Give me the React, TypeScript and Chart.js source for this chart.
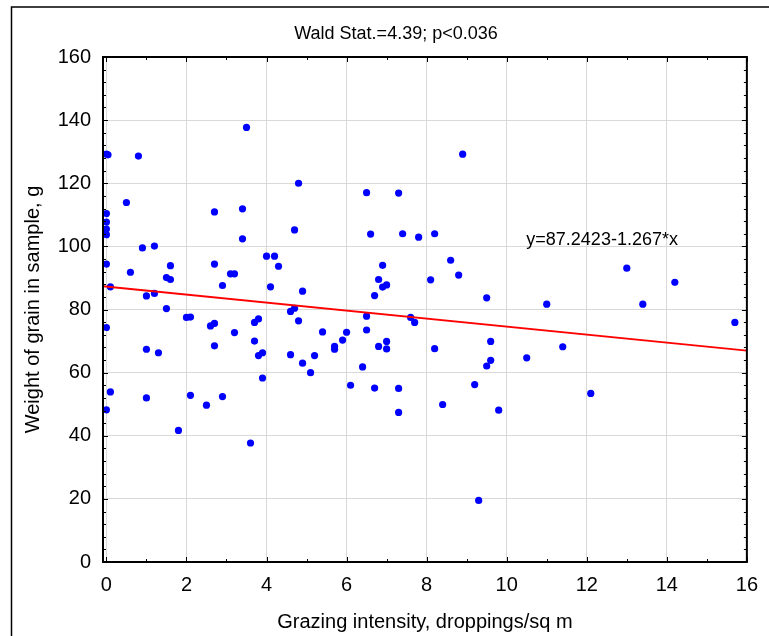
import React, { useEffect, useRef } from "react";
import { Chart, registerables } from "chart.js";

Chart.register(...registerables);

// ---- Data ----
const grazing: number[] = [
  0.0, 0.04, 0.8, 0.5, 0.0, 0.0, 0.0, 0.0, 0.0, 0.9,
  1.2, 0.6, 0.1, 1.0, 1.2, 1.5, 1.6, 1.6, 1.5, 2.7,
  2.7, 2.9, 3.1, 3.2, 3.4, 3.4, 3.5, 0.0, 1.0, 1.3,
  2.0, 2.1, 2.6, 2.7, 2.7, 3.2, 3.7, 3.8, 3.7, 0.1,
  0.0, 1.0, 2.1, 2.5, 2.9, 1.8, 3.6, 8.9, 4.8, 6.5,
  7.3, 4.7, 6.6, 7.4, 7.8, 8.2, 4.0, 4.2, 4.3, 8.6,
  6.9, 6.8, 6.9, 7.0, 8.1, 8.8, 4.1, 4.9, 6.7, 9.5,
  4.6, 4.7, 4.8, 6.5, 7.6, 7.7, 5.4, 6.0, 6.5, 3.8,
  3.9, 3.9, 4.6, 4.9, 5.1, 5.2, 5.7, 5.7, 5.9, 6.1,
  6.4, 6.8, 7.0, 7.0, 6.7, 7.3, 7.3, 8.2, 8.4, 9.2,
  9.3, 9.5, 9.6, 9.6, 9.8, 13.0, 14.2, 11.0, 13.4, 15.7,
  11.4, 10.5, 12.1,
];
const grainWeight: number[] = [
  129.2, 129.0, 128.6, 113.9, 110.4, 107.7, 105.5, 103.7, 94.4, 99.5,
  100.1, 91.8, 87.2, 84.3, 85.1, 90.1, 89.5, 93.9, 80.3, 110.9,
  94.4, 87.6, 91.3, 91.3, 111.9, 102.4, 137.7, 74.3, 67.4, 66.3,
  77.5, 77.6, 74.8, 75.6, 68.5, 72.7, 75.9, 77.0, 70.0, 53.9,
  48.2, 52.0, 52.8, 49.7, 52.4, 41.7, 37.7, 129.2, 120.0, 117.0,
  116.9, 105.2, 103.9, 104.0, 102.9, 104.0, 96.9, 96.9, 93.7, 95.6,
  94.0, 89.5, 87.1, 87.8, 89.4, 90.9, 87.2, 85.8, 84.4, 83.7,
  79.4, 80.4, 76.4, 77.9, 77.5, 75.9, 72.9, 72.8, 73.5, 65.4,
  66.3, 58.3, 65.7, 63.0, 60.0, 65.4, 68.3, 67.4, 70.3, 56.0,
  61.8, 68.3, 69.9, 67.5, 55.1, 55.0, 47.4, 67.6, 49.9, 56.2,
  19.5, 62.1, 69.9, 63.9, 48.1, 93.1, 88.6, 81.7, 81.7, 75.9,
  68.2, 64.7, 53.4,
];

// Fitted line endpoints (x at axis edges, y from the printed equation)
const fitLineX: number[] = [-0.085, 16];
const fitLineY: number[] = [87.35, 66.97];

const xTickValues: number[] = [0, 2, 4, 6, 8, 10, 12, 14, 16];
const yTickValues: number[] = [0, 20, 40, 60, 80, 100, 120, 140, 160];

const titleText = "Wald Stat.=4.39; p<0.036";
const equationText = "y=87.2423-1.267*x";
const equationAt = { x: 10.49, y: 100.4 };
const xAxisLabel = "Grazing intensity, droppings/sq m";
const yAxisLabel = "Weight of grain in sample, g";

const FONT = '"Liberation Sans", Arial, Helvetica, sans-serif';

const decorPlugin = {
  id: "decor",
  afterDraw(chart: any) {
    const { ctx, chartArea, scales } = chart;
    const { left, right, top, bottom } = chartArea;
    const xs = scales.x;
    const ys = scales.y;
    ctx.save();

    // outer frame (top and left edges visible)
    ctx.strokeStyle = "#000";
    ctx.lineWidth = 1.5;
    ctx.beginPath();
    ctx.moveTo(11.5, 700);
    ctx.lineTo(11.5, 7);
    ctx.lineTo(800, 7);
    ctx.stroke();

    // inward ticks, major and minor, on all four sides
    ctx.lineWidth = 1;
    ctx.beginPath();
    for (let v = 0; v <= 16; v += 1) {
      const p = Math.round(xs.getPixelForValue(v)) + 0.5;
      const len = v % 2 === 0 ? 5 : 3;
      ctx.moveTo(p, bottom);
      ctx.lineTo(p, bottom - len);
      ctx.moveTo(p, top);
      ctx.lineTo(p, top + len);
    }
    for (let v = 0; v <= 160; v += 4) {
      const p = Math.round(ys.getPixelForValue(v)) + 0.5;
      const len = v % 20 === 0 ? 5 : 3;
      ctx.moveTo(left, p);
      ctx.lineTo(left + len, p);
      ctx.moveTo(right, p);
      ctx.lineTo(right - len, p);
    }
    ctx.stroke();

    // plot border
    ctx.lineWidth = 2;
    ctx.strokeRect(left, top, right - left, bottom - top);

    // title
    ctx.fillStyle = "#000";
    ctx.font = `18px ${FONT}`;
    ctx.textAlign = "center";
    ctx.textBaseline = "alphabetic";
    ctx.fillText(titleText, 396, 38.7);

    // regression equation
    ctx.textAlign = "left";
    ctx.fillText(
      equationText,
      xs.getPixelForValue(equationAt.x),
      ys.getPixelForValue(equationAt.y)
    );
    ctx.restore();
  },
};

export default function App() {
  const canvasRef = useRef<HTMLCanvasElement | null>(null);

  useEffect(() => {
    const canvas = canvasRef.current;
    if (!canvas) return;
    const points = grazing.map((x, i) => ({ x, y: grainWeight[i] }));
    const line = fitLineX.map((x, i) => ({ x, y: fitLineY[i] }));

    const chart = new Chart(canvas, {
      type: "scatter",
      data: {
        datasets: [
          {
            label: "fit",
            data: line,
            showLine: true,
            borderColor: "#ff0000",
            borderWidth: 2,
            pointRadius: 0,
            fill: false,
          },
          {
            label: "grain",
            data: points,
            backgroundColor: "#0000ff",
            borderColor: "#0000ff",
            borderWidth: 0,
            pointRadius: 3.6,
          },
        ],
      },
      options: {
        responsive: false,
        animation: false,
        devicePixelRatio: 1,
        layout: { padding: { left: 0, top: 57, right: 11, bottom: 0 } },
        plugins: {
          legend: { display: false },
          tooltip: { enabled: false },
          title: { display: false },
        },
        scales: {
          x: {
            type: "linear",
            min: -0.085,
            max: 16,
            afterBuildTicks: (s: any) => {
              s.ticks = xTickValues.map((v) => ({ value: v }));
            },
            afterFit: (s: any) => {
              s.height = 74;
            },
            ticks: {
              padding: 11,
              color: "#000",
              font: { size: 20, family: FONT },
              maxRotation: 0,
              autoSkip: false,
            },
            grid: { color: "#d9d9d9", lineWidth: 1, drawTicks: false },
            border: { display: false },
            title: {
              display: true,
              text: xAxisLabel,
              color: "#000",
              font: { size: 20, family: FONT },
              padding: { top: 0, bottom: 2 },
            },
          },
          y: {
            type: "linear",
            min: 0,
            max: 160,
            afterBuildTicks: (s: any) => {
              s.ticks = yTickValues.map((v) => ({ value: v }));
            },
            afterFit: (s: any) => {
              s.width = 103;
            },
            ticks: {
              padding: 12,
              color: "#000",
              font: { size: 20, family: FONT },
              autoSkip: false,
            },
            grid: { color: "#d9d9d9", lineWidth: 1, drawTicks: false },
            border: { display: false },
            title: {
              display: true,
              text: yAxisLabel,
              color: "#000",
              font: { size: 20, family: FONT },
              padding: { top: 21, bottom: 0 },
            },
          },
        },
      },
      plugins: [decorPlugin],
    });
    return () => chart.destroy();
  }, []);

  return (
    <div
      style={{
        position: "fixed",
        left: 0,
        top: 0,
        width: 769,
        height: 636,
        background: "#fff",
        overflow: "hidden",
      }}
    >
      <canvas ref={canvasRef} width={769} height={636} />
    </div>
  );
}
